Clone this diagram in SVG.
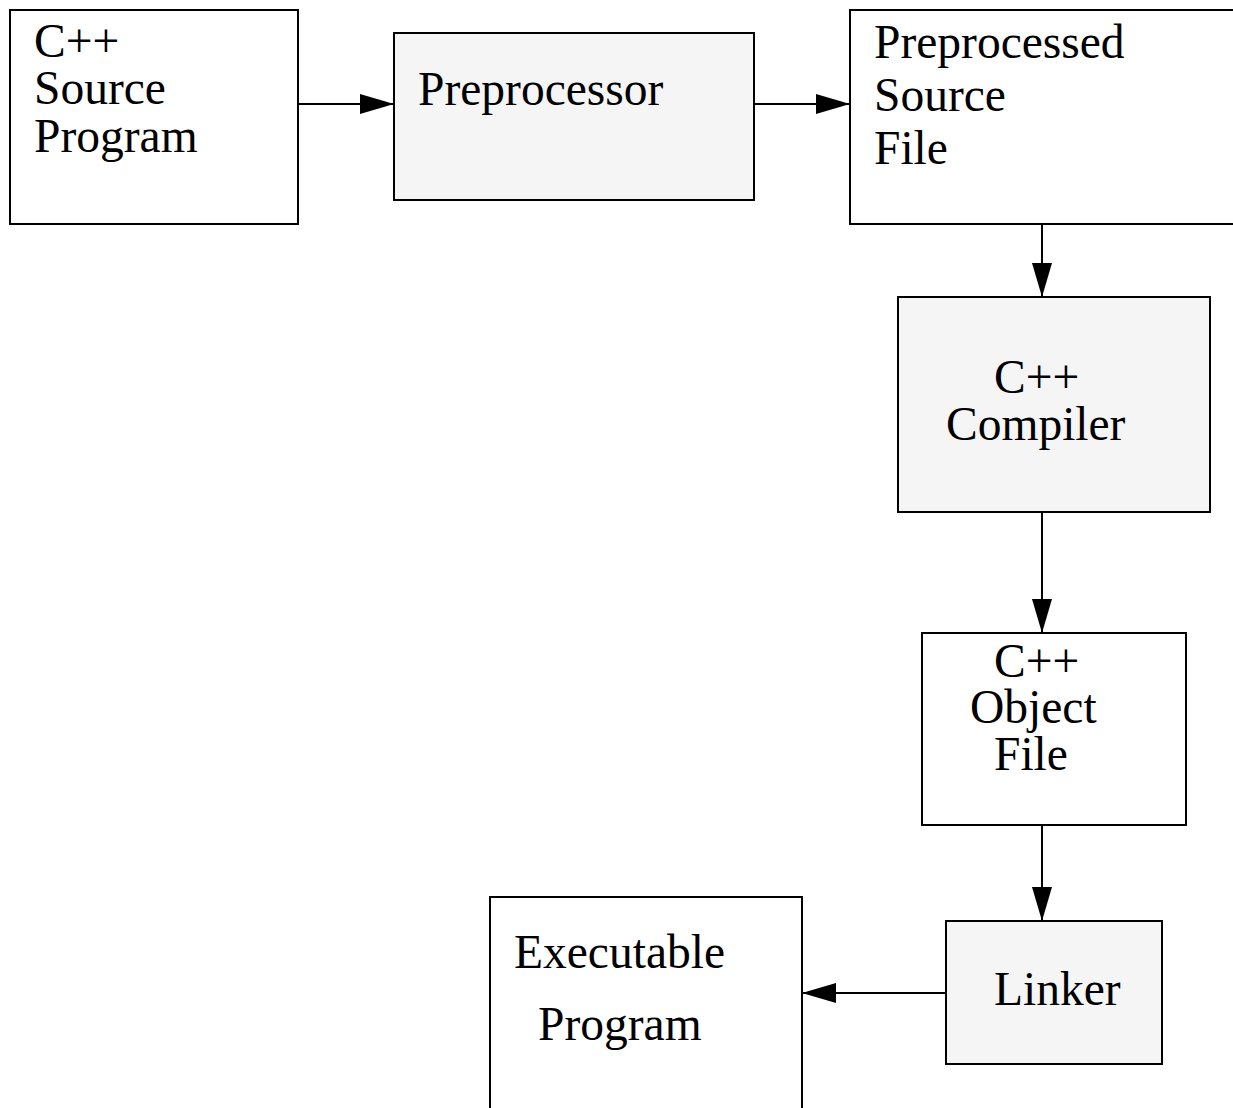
<svg xmlns="http://www.w3.org/2000/svg" width="1233" height="1108" viewBox="0 0 1233 1108">
<style>
.box{stroke:#000;stroke-width:2;fill:#fff}
.proc{fill:#f5f5f5}
text{font-family:"Liberation Serif","Times New Roman",serif;font-size:47.5px;fill:#000}
.conn{stroke:#000;stroke-width:2;fill:none;marker-end:url(#ah)}
</style>
<defs>
<marker id="ah" viewBox="0 0 34 20" refX="34" refY="10" markerWidth="34" markerHeight="20" markerUnits="userSpaceOnUse" orient="auto">
<path d="M0,0 L34,10 L0,20 Z" fill="#000"/>
</marker>
</defs>
<rect width="1233" height="1108" fill="#fff"/>
<g id="connectors">
<line class="conn" x1="298" y1="104" x2="394" y2="104"/>
<line class="conn" x1="754" y1="104" x2="850" y2="104"/>
<line class="conn" x1="1042" y1="224" x2="1042" y2="297"/>
<line class="conn" x1="1042" y1="512" x2="1042" y2="633"/>
<line class="conn" x1="1042" y1="825" x2="1042" y2="921"/>
<line class="conn" x1="946" y1="993" x2="802" y2="993"/>
</g>
<g id="source">
<rect class="box" x="10" y="10" width="288" height="214"/>
<text x="34" y="57">C++</text>
<text x="34" y="104">Source</text>
<text x="34" y="152">Program</text>
</g>
<g id="preprocessor">
<rect class="box proc" x="394" y="33" width="360" height="167"/>
<text x="418" y="105">Preprocessor</text>
</g>
<g id="preprocessed">
<rect class="box" x="850" y="10" width="400" height="214"/>
<text x="874" y="58">Preprocessed</text>
<text x="874" y="111">Source</text>
<text x="874" y="164">File</text>
</g>
<g id="compiler">
<rect class="box proc" x="898" y="297" width="312" height="215"/>
<text x="994" y="393">C++</text>
<text x="946" y="440">Compiler</text>
</g>
<g id="object">
<rect class="box" x="922" y="633" width="264" height="192"/>
<text x="994" y="677">C++</text>
<text x="970" y="723">Object</text>
<text x="994" y="770">File</text>
</g>
<g id="linker">
<rect class="box proc" x="946" y="921" width="216" height="143"/>
<text x="994" y="1005">Linker</text>
</g>
<g id="executable">
<rect class="box" x="490" y="897" width="312" height="230"/>
<text x="514" y="968">Executable</text>
<text x="538" y="1040">Program</text>
</g>
</svg>
